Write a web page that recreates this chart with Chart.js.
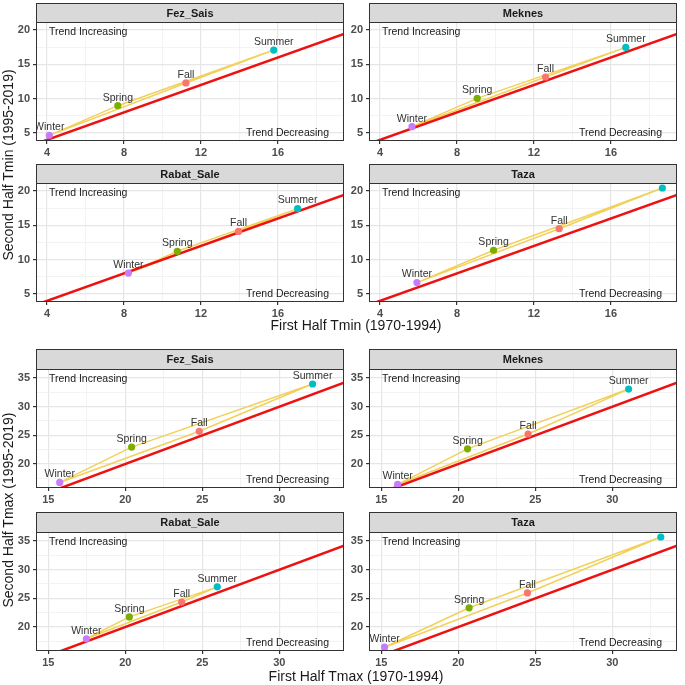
<!DOCTYPE html>
<html>
<head>
<meta charset="utf-8">
<script src="https://cdn.jsdelivr.net/npm/chart.js@4.4.1/dist/chart.umd.min.js"></script>
<style>
  body { margin: 0; background: #fff; }
  #page { position: relative; width: 685px; height: 685px; overflow: hidden; font-family: "Liberation Sans", Arial, sans-serif; }
  canvas { position: absolute; }
  .title { position: absolute; font-size: 14px; color: #1a1a1a; white-space: nowrap; transform: translate(-50%, -50%); }
  .title.vert { transform: translate(-50%, -50%) rotate(-90deg); }
</style>
</head>
<body>
<div id="page"></div>
<script>
// season order in every array: Winter, Spring, Summer, Fall
const seasons = ["Winter", "Spring", "Summer", "Fall"];
const seasonColors = ["#C77CFF", "#7CAE00", "#00BFC4", "#F8766D"];
const stations = ["Fez_Sais", "Meknes", "Rabat_Sale", "Taza"];

// Tmin: first half (x) vs second half (y)
const fezTminX = [4.12, 7.68, 15.78, 11.22];
const fezTminY = [4.66, 8.98, 17.08, 12.29];
const meknesTminX = [5.66, 9.05, 16.77, 12.6];
const meknesTminY = [5.92, 10.05, 17.47, 13.16];
const rabatTminX = [8.23, 10.77, 17.02, 13.95];
const rabatTminY = [8.05, 11.22, 17.44, 14.12];
const tazaTminX = [5.92, 9.9, 18.67, 13.31];
const tazaTminY = [6.66, 11.37, 20.44, 14.51];

// Tmax
const fezTmaxX = [15.74, 20.41, 32.16, 24.8];
const fezTmaxY = [16.78, 22.95, 33.95, 25.7];
const meknesTmaxX = [16.06, 20.6, 31.06, 24.53];
const meknesTmaxY = [16.43, 22.64, 33.07, 25.23];
const rabatTmaxX = [17.47, 20.26, 25.97, 23.66];
const rabatTmaxY = [17.94, 21.76, 27.0, 24.35];
const tazaTmaxX = [15.21, 20.7, 33.15, 24.49];
const tazaTmaxY = [16.47, 23.35, 35.7, 25.94];

// tick labels and minor grid positions
const tminXTicks = [4, 8, 12, 16];
const tminXMinor = [6, 10, 14, 18];
const tminYTicks = [5, 10, 15, 20];
const tminYMinor = [7.5, 12.5, 17.5];
const tmaxXTicks = [15, 20, 25, 30];
const tmaxXMinor = [17.5, 22.5, 27.5, 32.5];
const tmaxYTicks = [20, 25, 30, 35];
const tmaxYMinor = [17.5, 22.5, 27.5, 32.5];

const tminRange = { xMin: 3.43, xMax: 19.43, yMin: 3.835, yMax: 21.17 };
const tmaxRange = { xMin: 14.2, xMax: 34.2, yMin: 15.81, yMax: 36.57 };

const page = document.getElementById("page");
const FONT = "'Liberation Sans', Arial, sans-serif";
const pathOrder = [0, 1, 2, 3, 0];

const panelPlugin = {
  id: "panelDecor",
  afterDatasetsDraw(chart, args, opts) {
    const { ctx, chartArea: a } = chart;
    const xs = chart.scales.x, ys = chart.scales.y;
    ctx.save();
    ctx.beginPath();
    ctx.rect(a.left, a.top, a.right - a.left, a.bottom - a.top);
    ctx.clip();
    ctx.fillStyle = "#333333";
    ctx.font = "10.5px " + FONT;
    ctx.textAlign = "center";
    ctx.textBaseline = "middle";
    opts.xs.forEach((v, i) => {
      ctx.fillText(seasons[i], xs.getPixelForValue(v), ys.getPixelForValue(opts.ys[i]) - 8);
    });
    ctx.fillStyle = "#1a1a1a";
    ctx.textAlign = "left";
    ctx.fillText("Trend Increasing", a.left + 13, a.top + 10);
    ctx.textAlign = "right";
    ctx.fillText("Trend Decreasing", a.right - 15, a.bottom - 8);
    ctx.restore();
  },
  afterDraw(chart, args, opts) {
    const { ctx, chartArea: a } = chart;
    const st = a.top - opts.stripH;
    ctx.save();
    ctx.strokeStyle = "#333333";
    ctx.lineWidth = 1;
    ctx.fillStyle = "#D9D9D9";
    ctx.fillRect(a.left, st, a.right - a.left, opts.stripH);
    ctx.strokeRect(a.left + 0.5, st + 0.5, a.right - a.left - 1, opts.stripH);
    ctx.strokeRect(a.left + 0.5, a.top + 0.5, a.right - a.left - 1, a.bottom - a.top - 1);
    ctx.fillStyle = "#1a1a1a";
    ctx.font = "bold 11px " + FONT;
    ctx.textAlign = "center";
    ctx.textBaseline = "middle";
    ctx.fillText(opts.title, (a.left + a.right) / 2, st + opts.stripH / 2 + 1);
    ctx.restore();
  }
};

function axisOpts(min, max, major, minor) {
  const all = major.concat(minor).filter(v => v >= min && v <= max).sort((p, q) => p - q);
  return {
    type: "linear",
    min: min,
    max: max,
    afterBuildTicks: s => { s.ticks = all.map(v => ({ value: v })); },
    ticks: {
      autoSkip: false,
      maxRotation: 0,
      padding: 2,
      color: "#4D4D4D",
      font: { family: FONT, size: 11, weight: "bold" },
      callback: v => (major.includes(v) ? String(v) : "")
    },
    grid: {
      color: c => (major.includes(c.tick.value) ? "#E6E6E6" : "#F0F0F0"),
      lineWidth: c => (major.includes(c.tick.value) ? 1.2 : 0.8),
      tickColor: c => (major.includes(c.tick.value) ? "#333333" : "rgba(0,0,0,0)"),
      tickLength: 3
    },
    border: { display: false }
  };
}

function makePanel(title, xs, ys, plotLeft, stripTop, stripH, range, xMajor, xMinor, yMajor, yMinor) {
  const yAxisW = 34, xAxisH = 18, plotW = 308, plotH = 119;
  const canvas = document.createElement("canvas");
  canvas.width = yAxisW + plotW + 2;
  canvas.height = stripH + plotH + xAxisH;
  canvas.style.left = (plotLeft - yAxisW) + "px";
  canvas.style.top = stripTop + "px";
  page.appendChild(canvas);

  const points = xs.map((v, i) => ({ x: v, y: ys[i] }));
  const path = pathOrder.map(i => ({ x: xs[i], y: ys[i] }));
  const diag = [range.xMin, range.xMax].map(v => ({ x: v, y: v }));

  const xOpt = axisOpts(range.xMin, range.xMax, xMajor, xMinor);
  xOpt.afterFit = s => { s.height = xAxisH; };
  const yOpt = axisOpts(range.yMin, range.yMax, yMajor, yMinor);
  yOpt.afterFit = s => { s.width = yAxisW; };
  yOpt.ticks.padding = 3;

  const chart = new Chart(canvas, {
    type: "scatter",
    data: {
      datasets: [
        {
          data: points,
          backgroundColor: seasonColors,
          pointRadius: 3.6,
          borderWidth: 0,
          order: 0
        },
        {
          data: diag,
          showLine: true,
          borderColor: "#EE1111",
          borderWidth: 2.5,
          pointRadius: 0,
          clip: 0,
          order: 1
        },
        {
          data: path,
          showLine: true,
          borderColor: "#F2D15A",
          borderWidth: 1.5,
          pointRadius: 0,
          tension: 0,
          order: 2
        }
      ]
    },
    options: {
      responsive: false,
      maintainAspectRatio: false,
      animation: false,
      events: [],
      layout: { padding: { top: stripH, right: 2, left: 0, bottom: 0 } },
      plugins: {
        legend: { display: false },
        tooltip: { enabled: false },
        panelDecor: { title: title, xs: xs, ys: ys, stripH: stripH }
      },
      scales: { x: xOpt, y: yOpt }
    },
    plugins: [panelPlugin]
  });

  // make the plot area exactly plotW x plotH and put it where the reference has it
  let a = chart.chartArea;
  const dw = Math.round(plotW - (a.right - a.left));
  const dh = Math.round(plotH - (a.bottom - a.top));
  if (dw || dh) {
    chart.resize(canvas.width + dw, canvas.height + dh);
    a = chart.chartArea;
  }
  canvas.style.left = (plotLeft - a.left) + "px";
  canvas.style.top = (stripTop + stripH - a.top) + "px";
}

const cols = [36, 369];
makePanel(stations[0], fezTminX, fezTminY, cols[0], 3, 19, tminRange, tminXTicks, tminXMinor, tminYTicks, tminYMinor);
makePanel(stations[1], meknesTminX, meknesTminY, cols[1], 3, 19, tminRange, tminXTicks, tminXMinor, tminYTicks, tminYMinor);
makePanel(stations[2], rabatTminX, rabatTminY, cols[0], 164, 19, tminRange, tminXTicks, tminXMinor, tminYTicks, tminYMinor);
makePanel(stations[3], tazaTminX, tazaTminY, cols[1], 164, 19, tminRange, tminXTicks, tminXMinor, tminYTicks, tminYMinor);
makePanel(stations[0], fezTmaxX, fezTmaxY, cols[0], 349, 20, tmaxRange, tmaxXTicks, tmaxXMinor, tmaxYTicks, tmaxYMinor);
makePanel(stations[1], meknesTmaxX, meknesTmaxY, cols[1], 349, 20, tmaxRange, tmaxXTicks, tmaxXMinor, tmaxYTicks, tmaxYMinor);
makePanel(stations[2], rabatTmaxX, rabatTmaxY, cols[0], 512, 20, tmaxRange, tmaxXTicks, tmaxXMinor, tmaxYTicks, tmaxYMinor);
makePanel(stations[3], tazaTmaxX, tazaTmaxY, cols[1], 512, 20, tmaxRange, tmaxXTicks, tmaxXMinor, tmaxYTicks, tmaxYMinor);

// axis titles
function addTitle(text, x, y, vert) {
  const d = document.createElement("div");
  d.className = "title" + (vert ? " vert" : "");
  d.textContent = text;
  d.style.left = x + "px";
  d.style.top = y + "px";
  page.appendChild(d);
}
addTitle("Second Half Tmin (1995-2019)", 8, 165, true);
addTitle("First Half Tmin (1970-1994)", 356, 325, false);
addTitle("Second Half Tmax (1995-2019)", 8, 510, true);
addTitle("First Half Tmax (1970-1994)", 356, 676, false);
</script>
</body>
</html>
